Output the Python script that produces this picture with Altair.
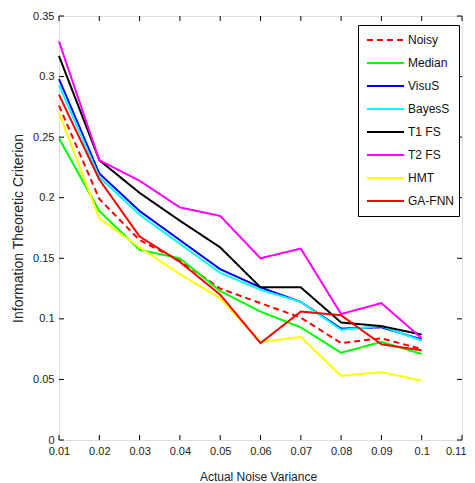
import altair as alt
import pandas as pd

x_vals = [0.01, 0.02, 0.03, 0.04, 0.05, 0.06, 0.07, 0.08, 0.09, 0.10]
series_names = ["Noisy", "Median", "VisuS", "BayesS", "T1 FS", "T2 FS", "HMT", "GA-FNN"]
series_colors = ["#ff0000", "#00ff00", "#0000ff", "#00ffff", "#000000", "#ff00ff", "#ffff00", "#ff0000"]
series_dash = [[6, 4], [1, 0], [1, 0], [1, 0], [1, 0], [1, 0], [1, 0], [1, 0]]

noisy = [0.276, 0.199, 0.165, 0.148, 0.125, 0.113, 0.101, 0.080, 0.084, 0.075]
median = [0.249, 0.189, 0.157, 0.150, 0.123, 0.106, 0.093, 0.072, 0.081, 0.071]
visus = [0.298, 0.220, 0.189, 0.165, 0.141, 0.126, 0.114, 0.092, 0.093, 0.083]
bayess = [0.293, 0.217, 0.186, 0.162, 0.138, 0.124, 0.114, 0.091, 0.094, 0.082]
t1fs = [0.317, 0.231, 0.204, 0.181, 0.159, 0.126, 0.126, 0.097, 0.094, 0.087]
t2fs = [0.329, 0.231, 0.214, 0.192, 0.185, 0.150, 0.158, 0.104, 0.113, 0.084]
hmt = [0.270, 0.183, 0.159, 0.137, 0.117, 0.081, 0.085, 0.053, 0.056, 0.049]
gafnn = [0.285, 0.215, 0.168, 0.147, 0.120, 0.080, 0.106, 0.103, 0.079, 0.074]

x_ticks = [0.01, 0.02, 0.03, 0.04, 0.05, 0.06, 0.07, 0.08, 0.09, 0.1, 0.11]
y_ticks = [0, 0.05, 0.1, 0.15, 0.2, 0.25, 0.3, 0.35]

all_series = [noisy, median, visus, bayess, t1fs, t2fs, hmt, gafnn]
rows = []
for i, (name, vals) in enumerate(zip(series_names, all_series)):
    for xv, yv in zip(x_vals, vals):
        rows.append({"x": xv, "y": yv, "series": name, "order": i})
df = pd.DataFrame(rows)

W, H = 403, 424
FONT = "Liberation Sans, Arial"

xscale = alt.Scale(domain=[0.01, 0.11], nice=False, zero=False)
yscale = alt.Scale(domain=[0, 0.35], nice=False, zero=False)

x_axis = alt.Axis(values=x_ticks, labelExpr="toString(datum.value)", tickSize=0, domain=False,
                  grid=False, labelFont=FONT, labelFontSize=11, labelColor="#222", labelPadding=5,
                  labelFlush=False, labelOverlap=False,
                  labelAlign={"condition": {"test": "datum.value > 0.105", "value": "right"},
                              "value": "center"},
                  labelOffset={"condition": {"test": "datum.value > 0.105", "value": 4},
                               "value": 0},
                  title="Actual Noise Variance", titleFont=FONT, titleFontSize=12,
                  titleFontWeight="normal", titleColor="#222", titleX=199, titleY=36,
                  titleBaseline="middle", titleAlign="center")
y_axis = alt.Axis(values=y_ticks, labelExpr="toString(datum.value)", tickSize=0, domain=False,
                  grid=False, labelFont=FONT, labelFontSize=11, labelColor="#222", labelPadding=5,
                  labelFlush=False, labelOverlap=False,
                  title="Information Theoretic Criterion", titleFont=FONT, titleFontSize=14,
                  titleFontWeight="normal", titleColor="#222", titleX=-41, titleY=212,
                  titleAngle=270, titleBaseline="middle", titleAlign="center")

lines = alt.Chart(df).mark_line(strokeWidth=2).encode(
    x=alt.X("x:Q", scale=xscale, axis=x_axis),
    y=alt.Y("y:Q", scale=yscale, axis=y_axis),
    color=alt.Color("series:N", scale=alt.Scale(domain=series_names, range=series_colors),
                    sort=series_names,
                    legend=alt.Legend(title=None, orient="none", legendX=299, legendY=9,
                                      symbolType="stroke", symbolSize=1369, symbolStrokeWidth=2,
                                      clipHeight=20, rowPadding=3, padding=5, symbolOffset=3,
                                      labelOffset=3, labelFont=FONT, labelFontSize=12,
                                      labelColor="#111", strokeColor="black", fillColor="white")),
    strokeDash=alt.StrokeDash("series:N", scale=alt.Scale(domain=series_names, range=series_dash),
                              sort=series_names),
    order=alt.Order("order:Q"),
)

xt = pd.DataFrame({"x": x_ticks})
yt = pd.DataFrame({"y": y_ticks})

bottom = alt.Chart(xt).mark_rule(color="black", strokeWidth=1).encode(
    x=alt.X("x:Q", scale=xscale, axis=x_axis), y=alt.value(H), y2=alt.value(H - 5))
top = alt.Chart(xt).mark_rule(color="black", strokeWidth=1).encode(
    x=alt.X("x:Q", scale=xscale, axis=x_axis), y=alt.value(0), y2=alt.value(5))
left = alt.Chart(yt).mark_rule(color="black", strokeWidth=1).encode(
    y=alt.Y("y:Q", scale=yscale, axis=y_axis), x=alt.value(0), x2=alt.value(5))
right = alt.Chart(yt).mark_rule(color="black", strokeWidth=1).encode(
    y=alt.Y("y:Q", scale=yscale, axis=y_axis), x=alt.value(W), x2=alt.value(W - 5))

chart = alt.layer(lines, bottom, top, left, right).properties(
    width=W, height=H,
    autosize=alt.AutoSizeParams(type="none"),
    padding={"left": 51, "top": 8, "right": 5, "bottom": 51},
).configure_view(stroke="black", strokeWidth=1).configure(background="white")

chart.save("out.html", embed_options={"renderer": "svg", "actions": False})
